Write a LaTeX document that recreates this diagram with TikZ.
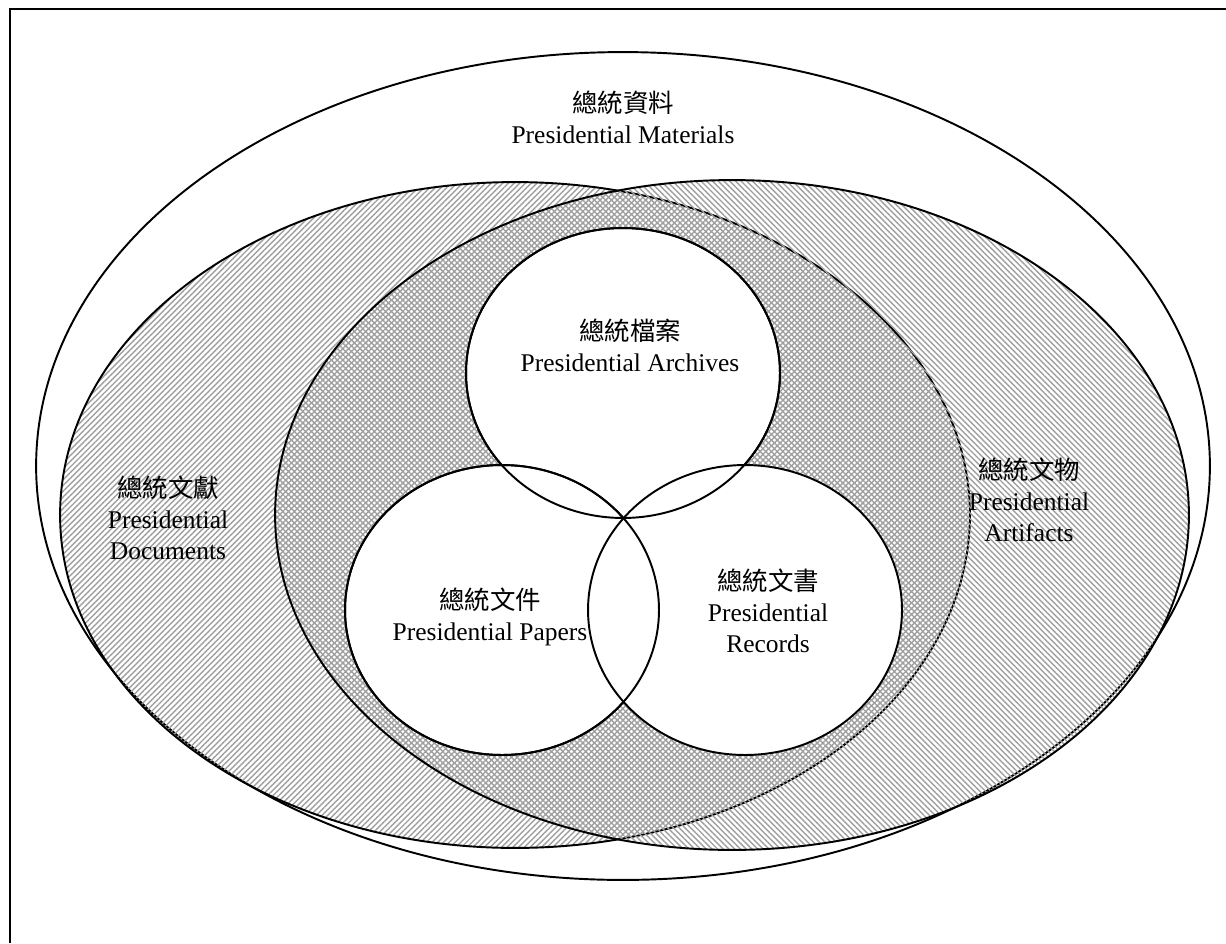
\documentclass[tikz,border=0pt]{standalone}
\usepackage{fontspec}
\setmainfont{Liberation Serif}
\newfontfamily\cjk{Noto Sans CJK TC}
\usepackage{tikz}
\usetikzlibrary{patterns.meta}

\begin{document}
\begin{tikzpicture}[
				x = 0.02cm, y = -0.02cm,
				line width = 1.1pt,
				every node/.style = {align = center, font = \fontsize{14.5}{17.5}\selectfont},
				hatchne/.style = {pattern = {Lines[angle=45,distance=2.3pt,line width=0.8pt]}, pattern color = gray!75},
				hatchnw/.style = {pattern = {Lines[angle=-45,distance=2.3pt,line width=0.8pt]}, pattern color = gray!75},
				venn/.style = {fill = white, draw}
			]

			\useasboundingbox (0,0) rectangle (1226,943);
			\draw[line width=1.6pt] (10,943) -- (10,9) -- (1226,9);

			\draw[venn] (623,466) ellipse [x radius=11.74cm, y radius=8.28cm];
			\draw[hatchne] (515,515) ellipse [x radius=9.1cm, y radius=6.66cm];
			\draw[hatchnw] (732,515) ellipse [x radius=9.14cm, y radius=6.7cm];

			\draw[venn] (623,373) ellipse [x radius=3.14cm, y radius=2.9cm];
			\draw[venn] (502,610) ellipse [x radius=3.14cm, y radius=2.9cm];
			\draw[venn] (745,610) ellipse [x radius=3.14cm, y radius=2.9cm];
			\draw (502,610) ellipse [x radius=3.14cm, y radius=2.9cm];
			\draw (623,373) ellipse [x radius=3.14cm, y radius=2.9cm];

			\node (materials) at (623,117) {{\cjk 總統資料}\\Presidential Materials};
			\node (documents) at (168,518) {{\cjk 總統文獻}\\Presidential\\Documents};
			\node (artifacts) at (1029,500) {{\cjk 總統文物}\\Presidential\\Artifacts};
			\node (archives) at (630,345) {{\cjk 總統檔案}\\Presidential Archives};
			\node (papers) at (490,617) {{\cjk 總統文件}\\Presidential Papers};
			\node (records) at (768,611) {{\cjk 總統文書}\\Presidential\\Records};

			\end{tikzpicture}
\end{document}
